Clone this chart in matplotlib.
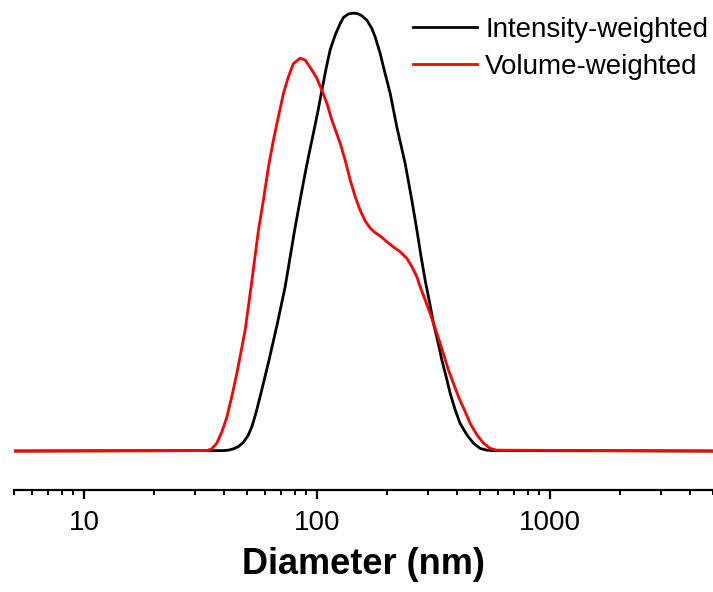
# DLS size distribution - intensity vs volume weighted
import numpy as np
import matplotlib
matplotlib.use('Agg')
import matplotlib.pyplot as plt

plt.rcParams['font.family'] = ['Liberation Sans', 'DejaVu Sans']

############## Data ##############

# intensity-weighted distribution
diamIntensity = [5, 39.6, 41.6, 43.7, 45.9, 48.3, 50.7, 52.5, 54.7, 56.9, 61.8, 67.1,
                 72.9, 80.1, 84.5, 88.8, 92.4, 96.4, 100.7, 104.8, 109.3, 113.7, 119.5,
                 125.5, 129.7, 136, 142.8, 149, 155.5, 163.4, 171.7, 177.4, 186.4, 192.6,
                 205.8, 219.8, 238.6, 254.9, 267.9, 278.7, 290.8, 303.4, 315.6, 329.6,
                 342.9, 357.7, 372.3, 391.2, 410.9, 439.1, 468.7, 500.7, 535, 571.1, 5000]
intensity = [0, 0.1, 0.2, 0.5, 1.0, 2.0, 3.7, 5.6, 8.8, 12.4, 20.2, 28.5,
             37.5, 50.5, 57.3, 63.4, 68.0, 72.6, 77.5, 82.4, 87.4, 91.6, 95.0,
             97.6, 99.0, 99.8, 100, 99.9, 99.4, 98.4, 96.5, 94.6, 90.8, 87.7,
             81.7, 74.0, 65.7, 57.3, 50.5, 44.7, 39.0, 34.1, 29.2, 25.0,
             20.8, 17.0, 13.2, 9.4, 6.3, 3.7, 1.8, 0.6, 0.2, 0.1, 0]

# volume-weighted distribution
diamVolume = [5, 33.6, 35.3, 37.1, 39.0, 41.0, 43.0, 45.2, 49.1, 52.5, 56.0, 58.8,
              61.8, 64.9, 68.2, 71.7, 75.3, 79.1, 84.5, 88.8, 94.9, 99.7, 104.8,
              110.1, 115.6, 125.5, 131.9, 138.6, 145.6, 152.9, 160.5, 168.9, 177,
              186.4, 199.1, 212.6, 227.1, 242.7, 254.9, 267.9, 276.8, 290.8, 305.5,
              321, 337.3, 366, 404, 431.7, 453.6, 484.6, 517.2, 552.6, 590.4, 5000]
volume = [0, 0.1, 0.5, 1.8, 4.4, 7.8, 12.4, 17.7, 27.6, 39.0, 50.5, 57.3,
          64.9, 71.0, 76.4, 81.7, 85.5, 88.5, 89.7, 89.3, 87.0, 85.1, 82.4,
          79.4, 75.6, 70.3, 66.4, 61.9, 58.1, 55.0, 52.6, 50.9, 49.9,
          49.1, 47.8, 46.6, 45.5, 44.0, 42.1, 39.8, 37.5, 34.5, 31.4,
          28.0, 24.6, 18.5, 12.4, 9.0, 6.3, 3.7, 1.8, 0.6, 0.2, 0]

seriesNames = ['Intensity-weighted', 'Volume-weighted']
tickValues = [10, 100, 1000]
tickLabels = ['10', '100', '1000']

############## Plot ##############

fig = plt.figure(figsize=(7.13, 5.92), dpi=100)
ax = fig.add_axes([14/713, 102/592, 699/713, 490/592])

ax.plot(diamIntensity, intensity, color='black', lw=2.0, label=seriesNames[0])
ax.plot(diamVolume, volume, color='#ff0000', lw=2.0, label=seriesNames[1])

ax.set_xscale('log')
ax.set_xlim(5, 5000)
ax.set_ylim(-8.9, 103.0)

# only the bottom axis is shown
for s in ['left', 'right', 'top']:
    ax.spines[s].set_visible(False)
ax.spines['bottom'].set_linewidth(1.6)
ax.yaxis.set_visible(False)

ax.set_xticks(tickValues, labels=tickLabels)
ax.tick_params(axis='x', which='major', length=6.5, width=1.6, labelsize=20, pad=8)
ax.tick_params(axis='x', which='minor', length=3.3, width=1.4)
ax.xaxis.set_minor_formatter(matplotlib.ticker.NullFormatter())

ax.set_xlabel('Diameter (nm)', fontsize=26, fontweight='bold', labelpad=8)

ax.legend(loc='upper left', bbox_to_anchor=(410/713, 0.976), bbox_transform=fig.transFigure,
          frameon=False, fontsize=20, handlelength=2.3, handletextpad=0.3,
          labelspacing=0.39, borderpad=0.1, borderaxespad=0)

fig.savefig('out.png', dpi=100)
